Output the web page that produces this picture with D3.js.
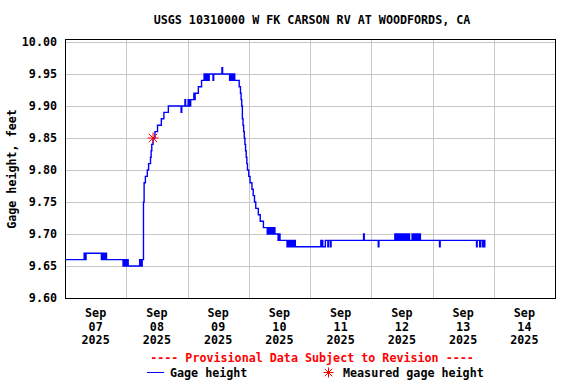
<!DOCTYPE html>
<html>
<head>
<meta charset="utf-8">
<script src="https://cdn.jsdelivr.net/npm/d3@7"></script>
<style>
  body { margin: 0; background: #fff; }
  text { font-family: "DejaVu Sans Mono", monospace; font-weight: bold; font-size: 11.7px; }
</style>
</head>
<body>
<svg width="576" height="384"></svg>
<script>
// gage height readings, [time, feet], one array per day (step changes only)
var sep07 = [["00:00",9.66],["07:30",9.67],["07:45",9.66],["08:15",9.67],
  ["14:15",9.66],["14:30",9.67],["14:45",9.66],["15:00",9.67],["15:15",9.66],["15:30",9.67],["15:45",9.66],["16:00",9.67],["16:15",9.66],
  ["22:45",9.65],["23:00",9.66],["23:15",9.65],["23:30",9.66],["23:45",9.65]];
var sep08 = [["00:00",9.66],["00:15",9.65],["00:30",9.66],["00:45",9.65],
  ["05:15",9.66],["05:30",9.65],["05:45",9.66],["06:00",9.65],["06:15",9.66],["06:30",9.66],
  ["06:45",9.75],["07:00",9.78],["07:30",9.79],["08:15",9.80],["08:45",9.81],["09:30",9.82],["09:45",9.83],
  ["10:00",9.84],["10:30",9.85],["11:15",9.86],["12:15",9.87],["13:45",9.88],["14:45",9.89],["16:30",9.90],
  ["21:30",9.89],["21:45",9.90],["23:00",9.91],["23:15",9.90]];
var sep09 = [["00:15",9.91],["00:30",9.90],["00:45",9.91],["01:00",9.90],["01:15",9.91],
  ["02:30",9.92],["02:45",9.91],["03:00",9.92],["04:15",9.93],["05:30",9.94],
  ["06:30",9.95],["06:45",9.94],["07:00",9.95],["07:15",9.94],["07:30",9.95],["07:45",9.94],["08:00",9.95],["08:15",9.94],["08:30",9.95],
  ["10:00",9.94],["10:15",9.95],["13:30",9.96],["13:45",9.95],
  ["16:30",9.94],["16:45",9.95],["17:00",9.94],["17:15",9.95],["17:30",9.94],["17:45",9.95],["18:00",9.94],["18:15",9.95],["18:30",9.94],
  ["20:15",9.93],["20:45",9.92],["21:00",9.91],["21:15",9.90],["21:30",9.88],["21:45",9.87],["22:00",9.86],
  ["22:15",9.85],["22:30",9.84],["22:45",9.83],["23:00",9.82],["23:15",9.81],["23:30",9.80]];
var sep10 = [["00:00",9.79],["00:30",9.78],["01:15",9.77],["01:45",9.76],["02:15",9.75],["02:45",9.74],
  ["03:45",9.73],["04:30",9.72],["05:45",9.71],
  ["07:15",9.70],["07:30",9.71],["07:45",9.70],["08:00",9.71],["08:15",9.70],["08:30",9.71],["08:45",9.70],
  ["09:00",9.71],["09:15",9.70],["09:30",9.71],["09:45",9.70],["10:00",9.71],["10:15",9.70],
  ["11:30",9.69],["12:00",9.70],["12:15",9.69],
  ["15:00",9.68],["15:15",9.69],["15:30",9.68],["15:45",9.69],["16:00",9.68],["16:15",9.69],["16:30",9.68],["16:45",9.69],
  ["17:15",9.68],["17:30",9.69],["17:45",9.68],["18:00",9.69],["18:15",9.68]];
var sep11 = [["04:15",9.69],["04:30",9.68],["04:45",9.69],["05:00",9.68],["06:00",9.69],
  ["07:00",9.68],["07:15",9.69],["08:00",9.68],["08:15",9.69],["21:00",9.70],["21:15",9.69]];
var sep12 = [["02:45",9.68],["03:00",9.69],
  ["09:15",9.70],["09:30",9.69],["09:45",9.70],["10:00",9.69],["10:15",9.70],["10:30",9.69],["10:45",9.70],["11:00",9.69],
  ["11:15",9.70],["11:30",9.69],["11:45",9.70],["12:00",9.69],["12:15",9.70],["12:30",9.69],["12:45",9.70],["13:00",9.69],
  ["13:15",9.70],["13:30",9.69],["13:45",9.70],["14:00",9.69],["14:15",9.70],["14:30",9.69],["14:45",9.70],["15:00",9.69],
  ["16:00",9.70],["16:15",9.69],["16:30",9.70],["16:45",9.69],["17:00",9.70],["17:15",9.69],["17:30",9.70],["17:45",9.69],
  ["18:00",9.70],["18:15",9.69],["18:30",9.70],["18:45",9.69],["19:00",9.70],["19:15",9.69]];
var sep13 = [["02:45",9.68],["03:00",9.69],["17:15",9.68],["17:30",9.69],["18:30",9.68],["18:45",9.69],
  ["19:30",9.68],["19:45",9.69],["20:15",9.68],["20:30",9.69],["20:45",9.69]];

var measured = [["2025-09-08 10:30", 9.85]];

var dayLabels = ["07","08","09","10","11","12","13","14"];
var yTicks = [9.60, 9.65, 9.70, 9.75, 9.80, 9.85, 9.90, 9.95, 10.00];

var title = "USGS 10310000 W FK CARSON RV AT WOODFORDS, CA";

var parse = d3.timeParse("%Y-%m-%d %H:%M");
var days = [["07", sep07], ["08", sep08], ["09", sep09], ["10", sep10], ["11", sep11], ["12", sep12], ["13", sep13]];
var data = [];
days.forEach(function (d) {
  d[1].forEach(function (p) {
    data.push({ t: parse("2025-09-" + d[0] + " " + p[0]), v: p[1] });
  });
});

var svg = d3.select("svg");

var x = d3.scaleTime()
  .domain([parse("2025-09-07 00:00"), parse("2025-09-15 00:00")])
  .range([65, 555]);
var y = d3.scaleLinear().domain([9.60, 10.00]).range([298, 42]);

// grid
svg.append("g")
  .selectAll("line")
  .data(x.ticks(d3.timeDay).filter(function (d) { return x(d) > 66 && x(d) < 554; }))
  .enter()
  .append("line")
  .attr("x1", function (d) { return Math.round(x(d)) + 0.5; })
  .attr("x2", function (d) { return Math.round(x(d)) + 0.5; })
  .attr("y1", 39)
  .attr("y2", 299)
  .attr("stroke", "#c8c8c8");

svg.append("g")
  .selectAll("line")
  .data(yTicks)
  .enter()
  .append("line")
  .attr("x1", 65)
  .attr("x2", 555)
  .attr("y1", function (d) { return Math.round(y(d)) + 0.5; })
  .attr("y2", function (d) { return Math.round(y(d)) + 0.5; })
  .attr("stroke", "#c8c8c8");

// y tick labels
svg.append("g")
  .selectAll("text")
  .data(yTicks)
  .enter()
  .append("text")
  .attr("x", 57)
  .attr("y", function (d) { return y(d) + 4; })
  .attr("text-anchor", "end")
  .text(function (d) { return d3.format(".2f")(d); });

// x tick labels at noon
var xl = svg.append("g")
  .selectAll("text")
  .data(dayLabels)
  .enter()
  .append("text")
  .attr("text-anchor", "middle")
  .attr("transform", function (d) {
    return "translate(" + x(parse("2025-09-" + d + " 12:00")) + ",317)";
  });
xl.append("tspan").attr("x", 0).attr("y", 0).text("Sep");
xl.append("tspan").attr("x", 0).attr("y", 13.5).text(function (d) { return d; });
xl.append("tspan").attr("x", 0).attr("y", 27).text("2025");

// gage height line
var line = d3.line()
  .curve(d3.curveStepAfter)
  .x(function (d) { return x(d.t); })
  .y(function (d) { return y(d.v); });

svg.append("path")
  .datum(data)
  .attr("fill", "none")
  .attr("stroke", "#0000ff")
  .attr("stroke-width", 1.4)
  .attr("d", line);

function star(g, cx, cy, r) {
  [[r, 0], [0, r], [r * 0.75, r * 0.75], [r * 0.75, -r * 0.75]].forEach(function (o) {
    g.append("line")
      .attr("x1", cx - o[0]).attr("y1", cy - o[1])
      .attr("x2", cx + o[0]).attr("y2", cy + o[1])
      .attr("stroke", "red")
      .attr("stroke-width", 1);
  });
}

measured.forEach(function (m) {
  star(svg.append("g"), x(parse(m[0])), y(m[1]), 5.5);
});

// frame
svg.append("rect")
  .attr("x", 65.5)
  .attr("y", 39.5)
  .attr("width", 490)
  .attr("height", 259)
  .attr("fill", "none")
  .attr("stroke", "#000");

// title and axis label
svg.append("text")
  .attr("x", 312)
  .attr("y", 24)
  .attr("text-anchor", "middle")
  .text(title);

svg.append("text")
  .attr("transform", "translate(16,169) rotate(-90)")
  .attr("text-anchor", "middle")
  .text("Gage height, feet");

// provisional note and legend
svg.append("text")
  .attr("x", 312)
  .attr("y", 362)
  .attr("text-anchor", "middle")
  .attr("fill", "red")
  .text("---- Provisional Data Subject to Revision ----");

svg.append("line")
  .attr("x1", 147).attr("x2", 164)
  .attr("y1", 372.5).attr("y2", 372.5)
  .attr("stroke", "#0000ff");
svg.append("text").attr("x", 170).attr("y", 377).text("Gage height");
star(svg.append("g"), 328.5, 372.5, 5);
svg.append("text").attr("x", 343).attr("y", 377).text("Measured gage height");
</script>
</body>
</html>
